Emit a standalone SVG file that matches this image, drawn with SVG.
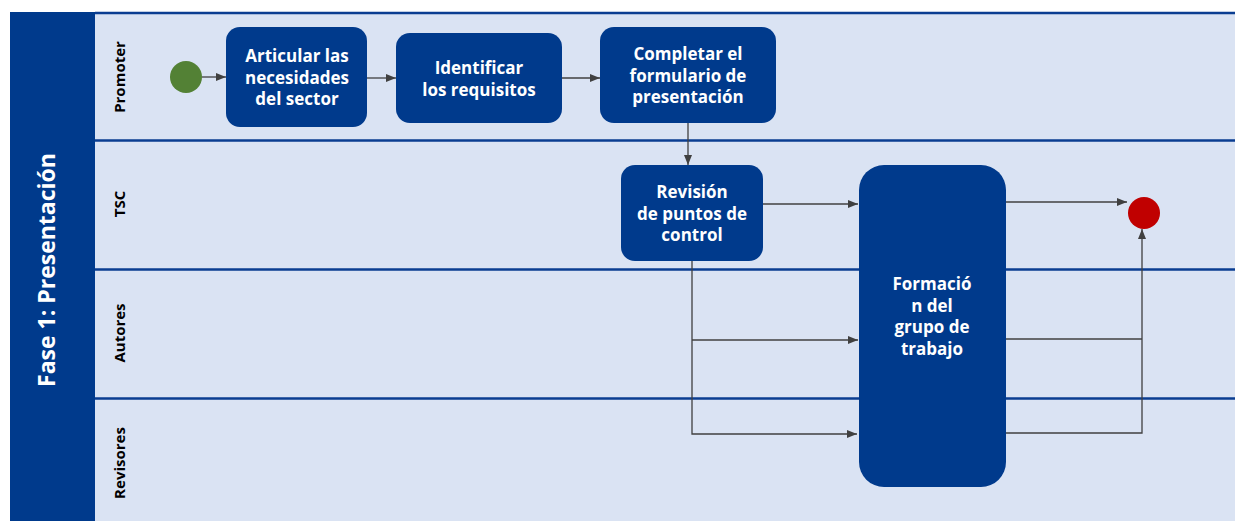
<svg xmlns="http://www.w3.org/2000/svg" width="1235" height="521" viewBox="0 0 1235 521">
<style>
.lane{fill:#dae3f3}
.div{stroke:#0a3d91;stroke-width:2.5}
.task{fill:#003a8c}
.tt{font-family:"Open Sans","Noto Sans",sans-serif;font-weight:bold;font-size:17px;fill:#fff;text-anchor:middle}
.ll{font-family:"Open Sans","Noto Sans",sans-serif;font-weight:bold;font-size:15px;fill:#000;text-anchor:middle}
.pl{font-family:"Open Sans","Noto Sans",sans-serif;font-weight:bold;font-size:23px;fill:#fff;text-anchor:middle}
.c{fill:none;stroke:#404040;stroke-width:1.3}
</style>
<defs>
<marker id="ah" markerWidth="10" markerHeight="8" refX="10" refY="4" orient="auto" markerUnits="userSpaceOnUse">
<path d="M0,0 L10,4 L0,8 Z" fill="#404040"/>
</marker>
</defs>
<rect width="1235" height="521" fill="#fff"/>
<g id="pool">
<rect x="95" y="12" width="1140" height="509" class="lane"/>
<rect x="10" y="12" width="85" height="509" fill="#003a8c"/>
<line x1="95" y1="13" x2="1235" y2="13" class="div"/>
<text class="pl" transform="translate(55,270) rotate(-90)">Fase 1: Presentación</text>
</g>
<g id="lanes">
<line x1="95" y1="140.5" x2="1235" y2="140.5" class="div"/>
<line x1="95" y1="269.5" x2="1235" y2="269.5" class="div"/>
<line x1="95" y1="398.5" x2="1235" y2="398.5" class="div"/>
<text class="ll" transform="translate(125,77) rotate(-90)">Promoter</text>
<text class="ll" transform="translate(125,204) rotate(-90)">TSC</text>
<text class="ll" transform="translate(125,333) rotate(-90)">Autores</text>
<text class="ll" transform="translate(125,463) rotate(-90)">Revisores</text>
</g>
<g id="connectors">
<line x1="202" y1="77" x2="226" y2="77" class="c" marker-end="url(#ah)"/>
<line x1="367" y1="78" x2="396" y2="78" class="c" marker-end="url(#ah)"/>
<line x1="562" y1="78" x2="600" y2="78" class="c" marker-end="url(#ah)"/>
<line x1="688" y1="123" x2="688" y2="165" class="c" marker-end="url(#ah)"/>
<line x1="743" y1="204" x2="858" y2="204" class="c" marker-end="url(#ah)"/>
<polyline points="692,261 692,434 857,434" class="c" marker-end="url(#ah)"/>
<line x1="692" y1="340" x2="858" y2="340" class="c" marker-end="url(#ah)"/>
<line x1="1006" y1="202" x2="1127" y2="202" class="c" marker-end="url(#ah)"/>
<polyline points="1006,339 1142,339" class="c"/>
<polyline points="1006,433 1142,433 1142,229" class="c" marker-end="url(#ah)"/>
</g>
<g id="start"><circle cx="186" cy="77" r="16" fill="#538135"/></g>
<g id="end"><circle cx="1144" cy="213" r="16" fill="#c00000"/></g>
<g id="t1">
<rect x="226" y="27" width="141" height="100" rx="14" class="task"/>
<text class="tt" x="297" y="62">Articular las</text>
<text class="tt" x="297" y="83.5">necesidades</text>
<text class="tt" x="297" y="105">del sector</text>
</g>
<g id="t2">
<rect x="396" y="33" width="166" height="90" rx="14" class="task"/>
<text class="tt" x="479" y="74">Identificar</text>
<text class="tt" x="479" y="96">los requisitos</text>
</g>
<g id="t3">
<rect x="600" y="27" width="176" height="96" rx="14" class="task"/>
<text class="tt" x="688" y="60">Completar el</text>
<text class="tt" x="688" y="81.5">formulario de</text>
<text class="tt" x="688" y="103">presentación</text>
</g>
<g id="t4">
<rect x="621" y="165" width="142" height="96" rx="14" class="task"/>
<text class="tt" x="692" y="198">Revisión</text>
<text class="tt" x="692" y="219.5">de puntos de</text>
<text class="tt" x="692" y="241">control</text>
</g>
<g id="t5">
<rect x="859" y="165" width="147" height="322" rx="25" class="task"/>
<text class="tt" x="932" y="290">Formació</text>
<text class="tt" x="932" y="311.5">n del</text>
<text class="tt" x="932" y="333">grupo de</text>
<text class="tt" x="932" y="354.5">trabajo</text>
</g>
</svg>
